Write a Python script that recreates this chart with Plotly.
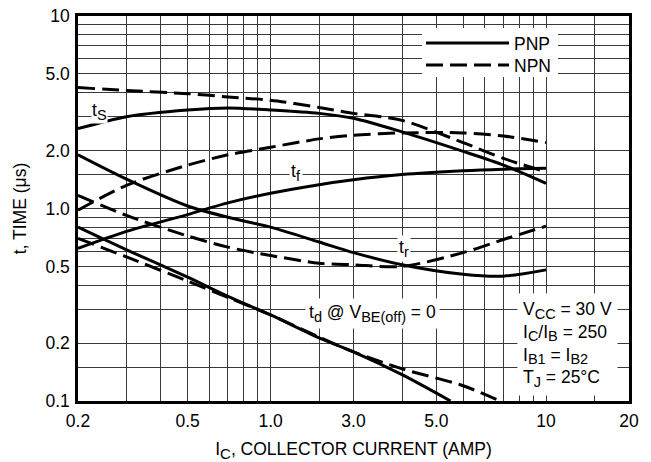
import plotly.graph_objects as go

# ---- data ----
ic = [0.2, 0.3, 0.5, 0.7, 1.0, 1.5, 2.0, 3.0, 5.0, 7.0, 10]
ts_pnp = [2.6, 3.0, 3.25, 3.33, 3.25, 3.12, 2.94, 2.5, 1.98, 1.68, 1.35]
ts_npn = [4.25, 4.1, 3.95, 3.8, 3.65, 3.35, 3.12, 2.87, 2.2, 1.82, 1.55]
tf_pnp = [0.62, 0.76, 0.93, 1.07, 1.2, 1.33, 1.41, 1.5, 1.57, 1.6, 1.62]
tf_npn = [0.98, 1.32, 1.68, 1.9, 2.08, 2.3, 2.4, 2.47, 2.47, 2.38, 2.2]
tr_pnp = [1.9, 1.42, 1.03, 0.9, 0.8, 0.67, 0.59, 0.51, 0.455, 0.445, 0.48]
tr_npn = [1.17, 0.92, 0.72, 0.63, 0.57, 0.52, 0.51, 0.5, 0.59, 0.69, 0.81]

ic_td_pnp = [0.2, 0.3, 0.5, 0.7, 1.0, 1.5, 2.0, 3.0, 4.5]
td_pnp = [0.8, 0.61, 0.44, 0.35, 0.28, 0.213, 0.18, 0.137, 0.1]
ic_td_npn = [0.2, 0.3, 0.5, 0.7, 1.0, 1.5, 2.0, 3.0, 5.0, 6.8]
td_npn = [0.70, 0.56, 0.42, 0.345, 0.28, 0.215, 0.18, 0.147, 0.12, 0.1]

# labelled ticks (as printed in the reference) and extra grid lines
x_tick_vals = [0.2, 0.5, 1.0, 2, 4, 10, 20]
x_tick_text = ["0.2", "0.5", "1.0", "3.0", "5.0", "10", "20"]
x_minor_grid = [0.3, 0.4, 0.6, 0.7, 0.8, 0.9, 1.5, 3, 5, 6, 7, 8, 9, 15]
y_tick_vals = [0.1, 0.2, 0.5, 1.0, 2, 5, 10]
y_tick_text = ["0.1", "0.2", "0.5", "1.0", "2.0", "5.0", "10"]
y_minor_grid = [0.15, 0.3, 0.4, 0.6, 0.7, 0.8, 0.9, 1.5, 3, 4, 6, 7, 8, 9]

FONT = "Liberation Sans, Arial, sans-serif"
FS = 17.5
LW = 3
DASH = "17px,7px"
GRID = "#3a3a3a"

fig = go.Figure()

def add(x, y, dashed, name=None, show=False, legend="legend"):
    fig.add_trace(go.Scatter(
        x=x, y=y, mode="lines", name=name, showlegend=show, legend=legend,
        line=dict(color="black", width=LW, dash=DASH if dashed else "solid",
                  shape="spline", smoothing=0.8),
        hoverinfo="skip"))

add(ic, ts_pnp, False, "PNP", True, "legend")
add(ic, ts_npn, True, "NPN", True, "legend2")
add(ic, tf_pnp, False)
add(ic, tf_npn, True)
add(ic, tr_pnp, False)
add(ic, tr_npn, True)
add(ic_td_pnp, td_pnp, False)
add(ic_td_npn, td_npn, True)

L, R, T, B = 78, 629, 16, 401
W, H = R - L, B - T

def px(xp, yp):
    return (xp - L) / W, (B - yp) / H

def sub(s, size=14.5):
    return f'<sub><span style="font-size:{size}px">{s}</span></sub>'

ann_font = dict(family=FONT, size=FS, color="black")
anns = []
def lab(text, xp, yp, **kw):
    x, y = px(xp, yp)
    d = dict(text=text, x=x, y=y, xref="paper", yref="paper", showarrow=False,
             xanchor="center", yanchor="middle",
             font=ann_font, bgcolor="white", borderpad=1)
    d.update(kw)
    anns.append(d)

lab("t" + sub("S"), 99, 112, borderpad=0)
lab("t" + sub("f"), 296, 172)
lab("t" + sub("r"), 404, 248)
lab("t" + sub("d") + " @ V" + sub("BE(off)") + " = 0", 372, 313, borderpad=3)
lab("V" + sub("CC") + " = 30 V<br>I" + sub("C") + "/I" + sub("B") + " = 250<br>I"
    + sub("B1") + " = I" + sub("B2") + "<br>T" + sub("J") + " = 25°C",
    517, 293, xanchor="left", yanchor="top", align="left", borderpad=5)

# white panel behind the legend (covers the grid like the printed key)
bx0, by0 = px(422, 77)
bx1, by1 = px(558, 28)
shapes = [dict(type="rect", xref="paper", yref="paper", x0=bx0, x1=bx1, y0=by0, y1=by1,
               fillcolor="white", line=dict(width=0), layer="above")]

axis_common = dict(
    type="log", showgrid=True, gridcolor=GRID, gridwidth=1.2,
    showline=True, linecolor="black", linewidth=2.5, mirror=True,
    ticks="", zeroline=False, automargin=False,
    tickfont=dict(family=FONT, size=FS, color="black"),
)

leg_common = dict(xanchor="left", yanchor="middle", bgcolor="rgba(0,0,0,0)",
                  borderwidth=0, itemwidth=83, font=dict(family=FONT, size=FS))
l1x, l1y = px(421, 43)
l2x, l2y = px(421, 65)

fig.update_layout(
    width=651, height=462,
    margin=dict(l=L, r=651 - R, t=T, b=462 - B),
    paper_bgcolor="white", plot_bgcolor="white",
    font=dict(family=FONT, size=FS, color="black"),
    xaxis=dict(axis_common, range=[-0.69897, 1.30103],
               tickvals=x_tick_vals, ticktext=x_tick_text,
               minor=dict(tickvals=x_minor_grid, showgrid=True, gridcolor=GRID,
                          gridwidth=1.2, ticks=""),
               ticklabelstandoff=2,
               title=dict(text="I" + sub("C", 15) + ", COLLECTOR CURRENT (AMP)",
                          font=dict(family=FONT, size=FS), standoff=16)),
    yaxis=dict(axis_common, range=[-1, 1],
               tickvals=y_tick_vals, ticktext=y_tick_text,
               minor=dict(tickvals=y_minor_grid, showgrid=True, gridcolor=GRID,
                          gridwidth=1.2, ticks=""),
               ticklabelstandoff=2,
               title=dict(text="t, TIME (μs)", font=dict(family=FONT, size=FS), standoff=15)),
    legend=dict(leg_common, x=l1x, y=l1y),
    legend2=dict(leg_common, x=l2x, y=l2y),
    shapes=shapes,
    annotations=anns,
)

fig.write_html("out.html", config={"displayModeBar": False},
               post_script="document.body.style.margin='0';")
